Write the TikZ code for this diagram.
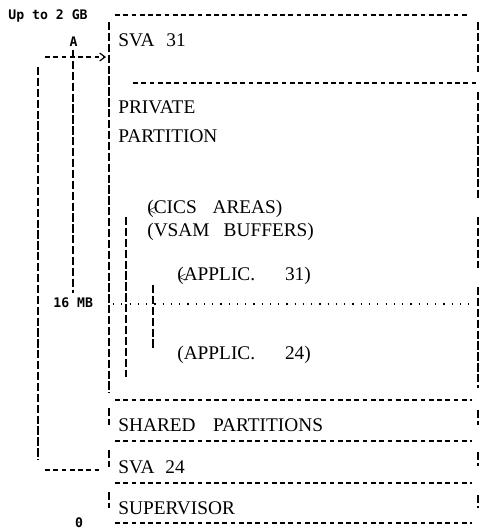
\documentclass[tikz,border=0pt]{standalone}
\usepackage{fontspec}
\setmainfont{Liberation Serif}
\newfontfamily\sizefont{DejaVu Sans Mono}
\usetikzlibrary{arrows.meta}

\newcommand\bentparen{\rlap{\kern0.5pt\raisebox{-1pt}{\scalebox{0.75}{<}}}(}

\begin{document}
\begin{tikzpicture}[
  x=0.02cm, y=-0.02cm,
  rule/.style={line width=0.6pt, dash pattern=on 2.7pt off 2pt},
  bar/.style={line width=0.75pt, dash pattern=on 4.7pt off 1.5pt},
  dotrule/.style={line width=1.2pt, dash pattern=on 0.7pt off 4pt},
  area/.style={anchor=base west, inner sep=0pt, font=\fontsize{11}{13}\selectfont},
  sizelabel/.style={anchor=base west, inner sep=0pt, font=\sizefont\bfseries\fontsize{7.5}{9}\selectfont}
]
  \useasboundingbox (0,0) rectangle (484,529);

  \node[sizelabel] (upper) at (8,19.5) {Up to 2 GB};
  \node[sizelabel, anchor=base] (lblA) at (73.5,46) {A};
  \node[sizelabel] (line16) at (53,307.5) {16 MB};
  \node[sizelabel, anchor=base] (zero) at (79,527) {0};

  \node[area] (sva31) at (118,46.5) {SVA\hspace{6.8pt}31};
  \node[area] (private) at (118,113.5) {PRIVATE};
  \node[area] (partition) at (118,142.5) {PARTITION};
  \node[area] (cics) at (147,213.5) {\bentparen CICS\hspace{9pt}AREAS)};
  \node[area] (vsam) at (147,236) {(VSAM\hspace{8pt}BUFFERS)};
  \node[area] (appl31) at (177,280.5) {\bentparen APPLIC.\hspace{17pt}31)};
  \node[area] (appl24) at (177,359.5) {(APPLIC.\hspace{17pt}24)};
  \node[area] (shared) at (118,431.5) {SHARED\hspace{10pt}PARTITIONS};
  \node[area] (sva24) at (118,473.5) {SVA\hspace{6.2pt}24};
  \node[area] (superv) at (118,514) {SUPERVISOR};

  \draw[rule] (115,15) -- (470,15);
  \draw[rule] (133,83) -- (479,83);
  \draw[dotrule] (113,304) -- (473,304);
  \foreach \y in {400,441,483,523}
    \draw[rule] (115,\y) -- (472,\y);

  \draw[bar] (109,22) -- (109,393);
  \foreach \a/\b in {408/425,450/467,492/508}
    \draw[bar] (109,\a) -- (109,\b);
  \foreach \a/\b in {22/72,92/198,217/268,287/388,410/425,452/466,495/508}
    \draw[bar] (478,\a) -- (478,\b);

  \draw[bar] (126,217) -- (126,377);
  \draw[bar] (153,285) -- (153,350);
  \draw[bar] (73,50) -- (73,293);

  \coordinate (arrowfrom) at (45,57);
  \coordinate (arrowto) at (106,57);
  \draw[rule, -{Straight Barb[length=3pt,width=4.5pt,line width=0.7pt]}] (arrowfrom) -- (arrowto);
  \draw[bar] (38,67) -- (38,460);
  \coordinate (loopfrom) at (45,470);
  \coordinate (loopto) at (102,470);
  \draw[rule] (loopfrom) -- (loopto);
\end{tikzpicture}
\end{document}
